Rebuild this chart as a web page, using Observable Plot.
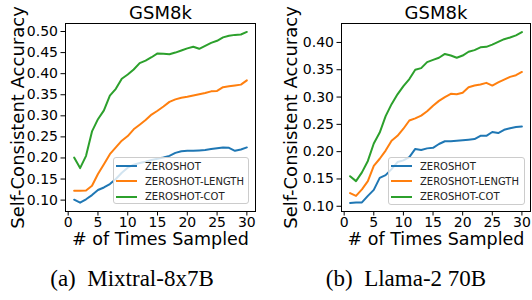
<!DOCTYPE html>
<html><head><meta charset="utf-8">
<script src="https://cdn.jsdelivr.net/npm/d3@7"></script>
<script src="https://cdn.jsdelivr.net/npm/@observablehq/plot@0.6"></script>
<style>
body{margin:0;background:#fff;}
#wrap{display:flex;width:532px;height:300px;overflow:hidden;}
.panel{position:relative;width:266px;height:300px;flex:none;}
.panel svg{display:block;}
.cap{position:absolute;left:0;width:266px;text-align:center;font-family:"Liberation Serif","Times New Roman",serif;font-size:23px;top:267px;line-height:1;white-space:pre;}
.legend{position:absolute;box-sizing:border-box;border:1px solid #cccccc;border-radius:3px;background:rgba(255,255,255,0.8);font-family:"DejaVu Sans",sans-serif;font-size:10px;color:#222;}
.row{position:absolute;left:0;height:12px;display:flex;align-items:center;white-space:nowrap;}
.sw{display:inline-block;width:21px;height:2px;margin-left:2px;margin-right:8px;}
</style></head>
<body>
<div id="wrap"></div>
<script>
const samples = [1,2,3,4,5,6,7,8,9,10,11,12,13,14,15,16,17,18,19,20,21,22,23,24,25,26,27,28,29,30];
const seriesNames = ["ZEROSHOT","ZEROSHOT-LENGTH","ZEROSHOT-COT"];
const seriesColors = ["#1f77b4","#ff7f0e","#2ca02c"];

const mixtralZeroshot = [0.101,0.094,0.102,0.112,0.124,0.130,0.138,0.150,0.165,0.177,0.184,0.188,0.191,0.195,0.198,0.201,0.205,0.212,0.216,0.217,0.217,0.218,0.219,0.221,0.223,0.225,0.224,0.217,0.220,0.225];
const mixtralLength = [0.122,0.122,0.123,0.134,0.162,0.185,0.209,0.225,0.241,0.252,0.268,0.279,0.290,0.303,0.312,0.322,0.333,0.339,0.343,0.345,0.348,0.351,0.354,0.358,0.359,0.368,0.370,0.372,0.374,0.384];
const mixtralCot = [0.201,0.176,0.205,0.263,0.292,0.313,0.348,0.364,0.388,0.398,0.410,0.425,0.431,0.439,0.448,0.447,0.446,0.450,0.455,0.460,0.464,0.459,0.466,0.473,0.478,0.486,0.490,0.492,0.493,0.499];

const llamaZeroshot = [0.106,0.107,0.107,0.119,0.130,0.152,0.157,0.168,0.181,0.184,0.190,0.205,0.203,0.206,0.207,0.214,0.219,0.219,0.220,0.221,0.222,0.223,0.229,0.229,0.236,0.234,0.240,0.243,0.245,0.246];
const llamaLength = [0.124,0.119,0.131,0.146,0.174,0.187,0.202,0.220,0.229,0.242,0.257,0.261,0.266,0.274,0.284,0.293,0.300,0.306,0.305,0.308,0.318,0.321,0.323,0.326,0.321,0.327,0.332,0.337,0.340,0.346];
const llamaCot = [0.155,0.146,0.162,0.183,0.215,0.235,0.265,0.287,0.305,0.320,0.333,0.350,0.353,0.364,0.368,0.372,0.379,0.376,0.372,0.376,0.383,0.386,0.391,0.392,0.396,0.401,0.406,0.409,0.413,0.419];

const xTicks = [0,5,10,15,20,25,30];
const mixtralYTicks = [0.10,0.15,0.20,0.25,0.30,0.35,0.40,0.45,0.50];
const llamaYTicks = [0.10,0.15,0.20,0.25,0.30,0.35,0.40];

const titleText = "GSM8k";
const xLabel = "# of Times Sampled";
const yLabel = "Self-Consistent Accuracy";

function tidy(arrs){
  const rows = [];
  arrs.forEach((a,si)=>a.forEach((v,i)=>rows.push({x:samples[i], y:v, s:seriesNames[si]})));
  return rows;
}

const panels = [
  {data:tidy([mixtralZeroshot,mixtralLength,mixtralCot]), yDomain:[0.073,0.519], yTicks:mixtralYTicks,
   ml:65, mr:11, ylabDx:-47.5, caption:"(a)  Mixtral-8x7B", capDx:-1,
   leg:{left:113,top:157,width:136,height:47}},
  {data:tidy([llamaZeroshot,llamaLength,llamaCot]), yDomain:[0.0904,0.4347], yTicks:llamaYTicks,
   ml:75, mr:2, ylabDx:-50, caption:"(b)  Llama-2 70B", capDx:7,
   leg:{left:122,top:157,width:137,height:48}}
];

const wrap = document.getElementById("wrap");
const font = "DejaVu Sans, sans-serif";

panels.forEach(p=>{
  const div = document.createElement("div");
  div.className = "panel";
  const chart = Plot.plot({
    width:266, height:245,
    marginLeft:p.ml, marginRight:p.mr, marginTop:23, marginBottom:34,
    style:{fontFamily:font, background:"#fff", color:"#000", overflow:"visible"},
    x:{domain:[-0.45,31.45]},
    y:{domain:p.yDomain},
    color:{domain:seriesNames, range:seriesColors},
    marks:[
      Plot.line(p.data,{x:"x", y:"y", z:"s", stroke:"s", strokeWidth:2}),
      Plot.frame({stroke:"#000", strokeWidth:1}),
      Plot.axisX({ticks:xTicks, tickSize:4.5, tickPadding:1.5, fontSize:14, label:null, stroke:"#000"}),
      Plot.axisY({ticks:p.yTicks, tickFormat:".2f", tickSize:4.5, tickPadding:3, fontSize:14, label:null, stroke:"#000"}),
      Plot.text([titleText],{frameAnchor:"top", dy:-10, lineAnchor:"middle", textAnchor:"middle", fontSize:18, fill:"#000"}),
      Plot.text([xLabel],{frameAnchor:"bottom", dy:28, lineAnchor:"middle", textAnchor:"middle", fontSize:17.5, fill:"#000"}),
      Plot.text([yLabel],{frameAnchor:"left", dx:p.ylabDx, rotate:-90, lineAnchor:"middle", textAnchor:"middle", fontSize:18, fill:"#000"})
    ]
  });
  div.appendChild(chart);
  const leg = document.createElement("div");
  leg.className = "legend";
  Object.assign(leg.style,{left:p.leg.left+"px", top:p.leg.top+"px", width:p.leg.width+"px", height:p.leg.height+"px"});
  seriesNames.forEach((n,i)=>{
    const r = document.createElement("div");
    r.className = "row";
    r.style.top = (2 + i*15.3) + "px";
    const sw = document.createElement("span");
    sw.className = "sw";
    sw.style.background = seriesColors[i];
    r.appendChild(sw);
    r.appendChild(document.createTextNode(n));
    leg.appendChild(r);
  });
  div.appendChild(leg);
  const cap = document.createElement("div");
  cap.className = "cap";
  cap.style.left = p.capDx + "px";
  cap.textContent = p.caption;
  div.appendChild(cap);
  wrap.appendChild(div);
});
</script>
</body></html>
